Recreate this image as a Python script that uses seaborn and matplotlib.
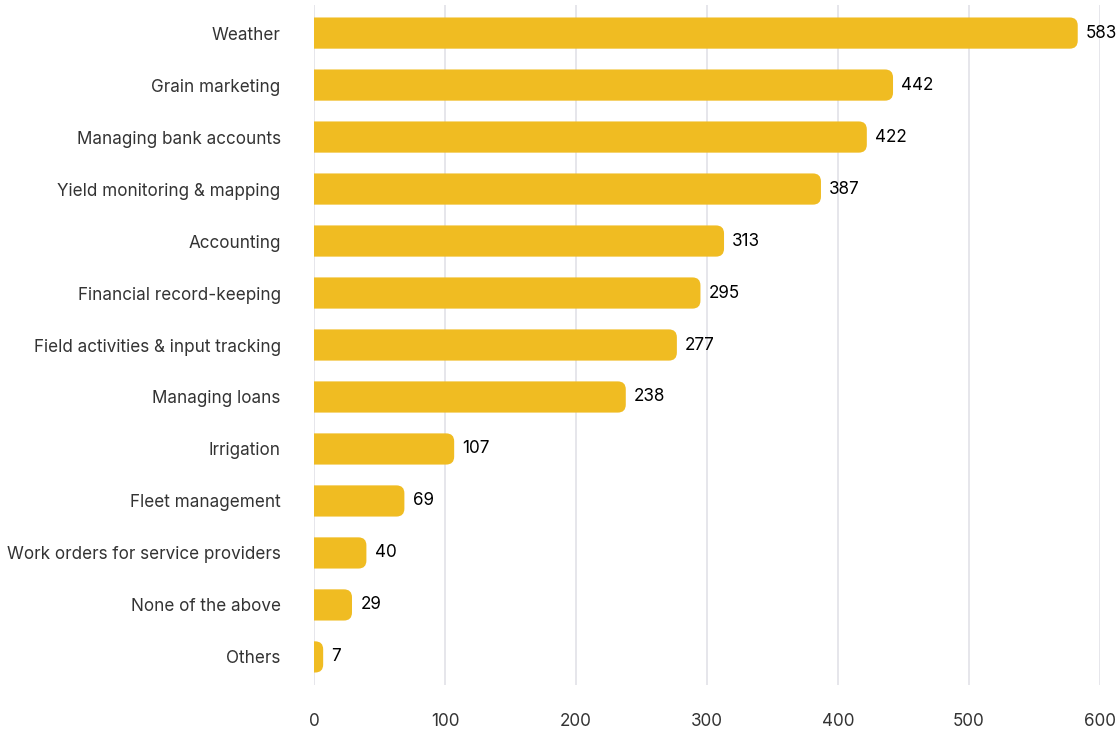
import matplotlib
matplotlib.use("Agg")
import matplotlib.pyplot as plt
from matplotlib.patches import FancyBboxPatch, Rectangle
import seaborn as sns
import pandas as pd

categories = [
    "Weather",
    "Grain marketing",
    "Managing bank accounts",
    "Yield monitoring & mapping",
    "Accounting",
    "Financial record-keeping",
    "Field activities & input tracking",
    "Managing loans",
    "Irrigation",
    "Fleet management",
    "Work orders for service providers",
    "None of the above",
    "Others",
]
counts = [583, 442, 422, 387, 313, 295, 277, 238, 107, 69, 40, 29, 7]
x_ticks = [0, 100, 200, 300, 400, 500, 600]

df = pd.DataFrame({"category": categories, "count": counts})

sns.set_theme(style="white")
plt.rcParams["font.family"] = ["Inter", "DejaVu Sans"]

BAR_COLOR = "#F0BC22"
GRID_COLOR = "#E4E4E9"
TEXT_COLOR = "#333333"

fig = plt.figure(figsize=(11.19, 7.30), dpi=100)
ax = fig.add_axes([314 / 1119, 1 - 685 / 730, (1100 - 314) / 1119, 680 / 730])

sns.barplot(data=df, x="count", y="category", color=BAR_COLOR,
            width=0.6, ax=ax, saturation=1, zorder=3)

ax.set_xlim(0, 600)
ax.set_ylim(len(categories) - 1 + 0.54, -0.54)
ax.set_xticks(x_ticks)
ax.set_xticklabels([str(t) for t in x_ticks])

# pixel scale of the data axes, for round corners
fig.canvas.draw()
bbox = ax.get_window_extent()
px_per_x = bbox.width / 600
px_per_y = bbox.height / (len(categories) - 1 + 1.08)
radius_px = 8
r_x = radius_px / px_per_x
aspect = px_per_x / px_per_y

clip = Rectangle((0, -5), 1000, 40, transform=ax.transData)

for patch in list(ax.patches):
    x0, y0 = patch.get_x(), patch.get_y()
    w, h = patch.get_width(), patch.get_height()
    patch.remove()
    rounded = FancyBboxPatch(
        (x0 - r_x, y0), w + r_x, h,
        boxstyle=f"round,pad=0,rounding_size={r_x}",
        mutation_aspect=aspect,
        facecolor=BAR_COLOR, edgecolor="none", zorder=3,
    )
    ax.add_patch(rounded)
    rounded.set_clip_path(clip)

for i, v in enumerate(counts):
    ax.annotate(str(v), xy=(v, i), xytext=(6, 0), textcoords="offset points",
                ha="left", va="center", fontsize=12.3, color="#000000",
                annotation_clip=False, clip_on=False)

ax.grid(axis="x", color=GRID_COLOR, linewidth=1.3, zorder=0)
ax.grid(axis="y", visible=False)
for s in ax.spines.values():
    s.set_visible(False)

ax.set_xlabel("")
ax.set_ylabel("")
ax.tick_params(axis="x", length=0, pad=20, labelsize=12.3, labelcolor=TEXT_COLOR)
ax.tick_params(axis="y", length=0, pad=24, labelsize=12.3, labelcolor=TEXT_COLOR)

fig.savefig("out.png", dpi=100)
